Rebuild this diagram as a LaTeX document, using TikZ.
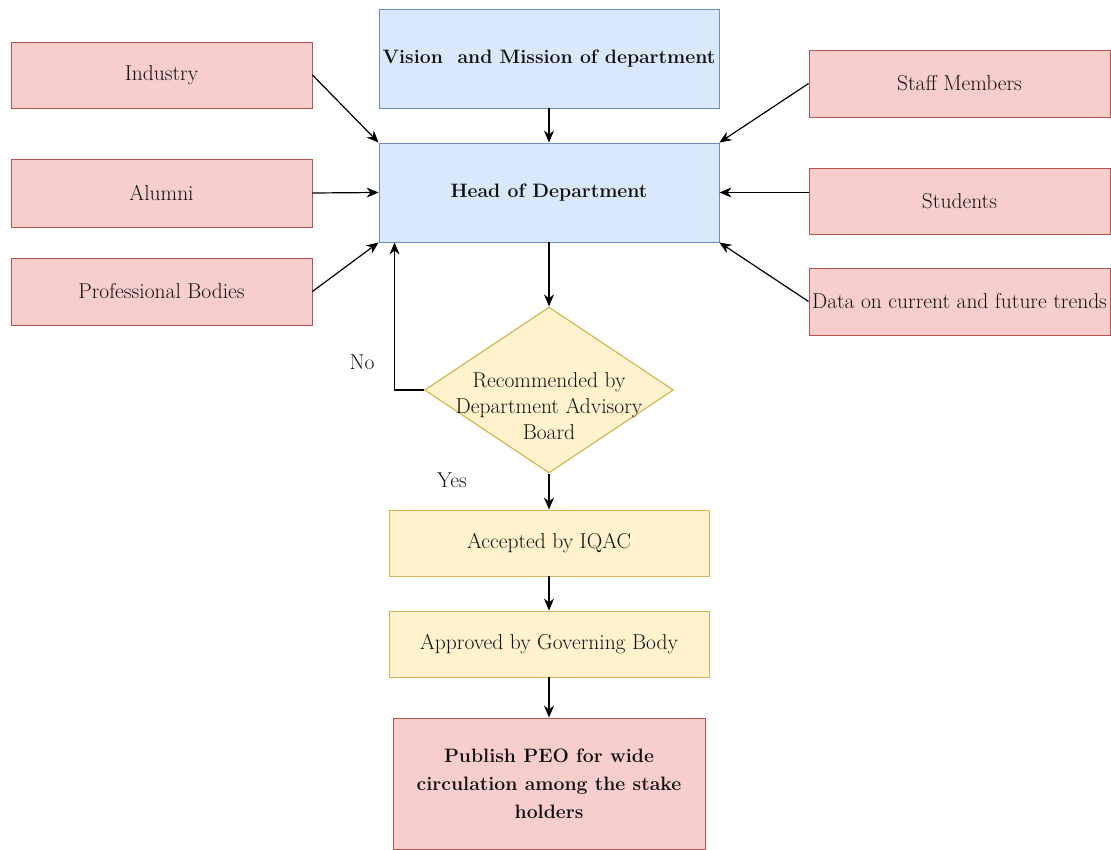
\documentclass[tikz,border=0pt]{standalone}
\usetikzlibrary{shapes.geometric,arrows.meta}
\definecolor{pinkfill}{HTML}{F8CECC}
\definecolor{pinkline}{HTML}{B85450}
\definecolor{bluefill}{HTML}{DAE8FC}
\definecolor{blueline}{HTML}{6C8EBF}
\definecolor{yelfill}{HTML}{FFF2CC}
\definecolor{yelline}{HTML}{D6B656}
\definecolor{txt}{HTML}{111111}
\tikzset{
  box/.style={rectangle, inner sep=0pt, line width=0.9pt, text=txt,
    font=\rmfamily\fontsize{21.5}{26}\selectfont, align=center},
  pinkbox/.style={box, fill=pinkfill, draw=pinkline},
  bluebox/.style={box, fill=bluefill, draw=blueline, font=\rmfamily\fontsize{19.4}{26}\selectfont\bfseries},
  yelbox/.style={box, fill=yelfill, draw=yelline},
  decision/.style={diamond, inner sep=0pt, fill=yelfill, draw=yelline, line width=1.2pt},
  conn/.style={line width=1.2pt, draw=black, -{Stealth[length=12pt,width=10pt]}},
  lbl/.style={text=txt, font=\rmfamily\fontsize{21.5}{26}\selectfont}
}
\begin{document}
\begin{tikzpicture}[x=1pt,y=-1pt]
\useasboundingbox[fill=white] (0,0) rectangle (1111,850);
% left inputs
\node[pinkbox, minimum width=301pt, minimum height=66pt] (ind) at (161.5,75) {Industry};
\node[pinkbox, minimum width=301pt, minimum height=68pt] (alu) at (161.5,193) {Alumni};
\node[pinkbox, minimum width=301pt, minimum height=67pt] (pb) at (161.5,291.5) {Professional Bodies};
% right inputs
\node[pinkbox, minimum width=301pt, minimum height=67pt] (staff) at (959.5,83.5) {Staff Members};
\node[pinkbox, minimum width=301pt, minimum height=66pt] (stud) at (959.5,201) {Students};
\node[pinkbox, minimum width=301pt, minimum height=67pt] (data) at (959.5,301.5) {Data on current and future trends};
% centre column
\node[bluebox, minimum width=340pt, minimum height=99pt] (vm) at (549,58.5) {Vision\ \ and Mission of department};
\node[bluebox, minimum width=340pt, minimum height=99pt] (hod) at (549,192.5) {Head of Department};
\node[decision, minimum width=249pt, minimum height=166pt] (dab) at (549,390) {};
\node[lbl, align=center] (dabt) at (549,406) {Recommended by\\Department Advisory\\Board};
\node[yelbox, minimum width=320pt, minimum height=66pt] (acc) at (549,543) {Accepted by IQAC};
\node[yelbox, minimum width=320pt, minimum height=66pt] (app) at (549,644) {Approved by Governing Body};
\node[pinkbox, font=\rmfamily\fontsize{19.4}{28}\selectfont\bfseries, minimum width=312pt, minimum height=131pt] (pub) at (549,783.5) {Publish PEO for wide\\circulation among the stake\\holders};
% labels
\node[lbl] (no) at (362,362) {No};
\node[lbl] (yes) at (452,480) {Yes};
% connectors
\draw[conn] (vm.south) -- (hod.north);
\draw[conn] (ind.east) -- (hod.north west);
\draw[conn] (alu.east) -- (hod.west);
\draw[conn] (pb.east) -- (hod.south west);
\draw[conn] (staff.west) -- (hod.north east);
\draw[conn] (stud.west |- hod.east) -- (hod.east);
\draw[conn] (data.west) -- (hod.south east);
\draw[conn] (hod.south) -- (dab.north);
\draw[conn] (dab.west) -| ([xshift=16pt]hod.south west);
\draw[conn] (dab.south) -- (acc.north);
\draw[conn] (acc.south) -- (app.north);
\draw[conn] (app.south) -- (pub.north);
\end{tikzpicture}
\end{document}
